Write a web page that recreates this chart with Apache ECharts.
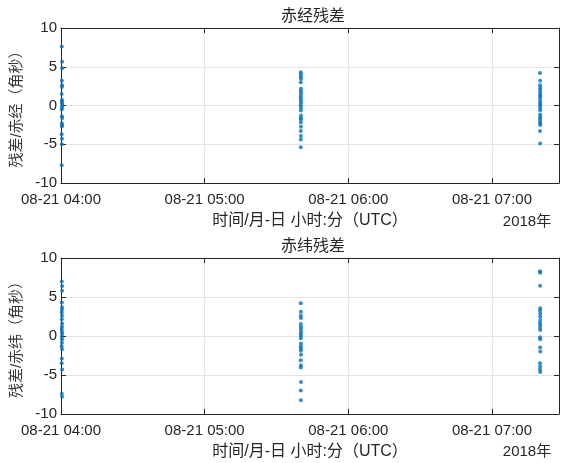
<!DOCTYPE html>
<html>
<head>
<meta charset="utf-8">
<script src="https://cdn.jsdelivr.net/npm/echarts@6/dist/echarts.min.js"></script>
<style>html,body{margin:0;padding:0;background:#fff;}#c{width:563px;height:463px;}</style>
</head>
<body>
<div id="c"></div>
<script>
// ---- data (UTC, 2018-08-21) ----
var raTimes = [
  '04:00:20','04:00:28','04:00:30','04:00:22','04:00:26','04:00:24','04:00:18','04:00:27','04:00:21','04:00:29','04:00:25',
  '04:00:19','04:00:23','04:00:31','04:00:20','04:00:28','04:00:24','04:00:17','04:00:26','04:00:22','04:00:18','04:00:30',
  '05:40:08','05:40:12','05:40:10','05:40:14','05:40:09','05:40:13','05:40:11','05:40:15','05:40:08','05:40:12','05:40:10','05:40:14',
  '05:40:09','05:40:13','05:40:11','05:40:15','05:40:08','05:40:12','05:40:10','05:40:14','05:40:09','05:40:13','05:40:11','05:40:10',
  '07:20:04','07:20:08','07:20:06','07:20:10','07:20:05','07:20:09','07:20:07','07:20:11','07:20:04','07:20:08','07:20:06',
  '07:20:10','07:20:05','07:20:09','07:20:07','07:20:11','07:20:04','07:20:08','07:20:06','07:20:10','07:20:05','07:20:07'
];
var raValues = [
  7.6, 5.65, 4.8, 3.2, 2.6, 2.4, 1.5, 0.7, 0.5, 0.3, -0.3,
  -0.5, -1.4, -1.6, -2.3, -2.5, -2.7, -3.7, -4.3, -5.0, -7.7, 0.0,
  4.3, 4.0, 3.7, 3.44, 3.0, 2.15, 1.85, 1.55, 1.2, 0.9, 0.65, 0.35,
  0.04, -0.3, -0.65, -1.3, -1.6, -1.8, -2.2, -2.75, -3.3, -3.95, -4.4, -5.4,
  4.2, 3.2, 2.6, 2.3, 2.0, 1.7, 1.4, 1.2, 0.9, 0.55, 0.25,
  0.0, -0.3, -0.6, -1.15, -1.45, -1.7, -2.0, -2.3, -2.5, -3.3, -4.9
];
var decTimes = [
  '04:00:20','04:00:28','04:00:30','04:00:22','04:00:26','04:00:24','04:00:18','04:00:27','04:00:21','04:00:29','04:00:25','04:00:19',
  '04:00:23','04:00:31','04:00:20','04:00:28','04:00:24','04:00:17','04:00:26','04:00:22','04:00:18','04:00:30','04:00:21','04:00:27',
  '05:40:08','05:40:12','05:40:10','05:40:14','05:40:09','05:40:13','05:40:11','05:40:15','05:40:08','05:40:12','05:40:10',
  '05:40:14','05:40:09','05:40:13','05:40:11','05:40:15','05:40:08','05:40:12','05:40:10','05:40:14','05:40:09','05:40:11',
  '07:20:04','07:20:08','07:20:06','07:20:10','07:20:05','07:20:09','07:20:07','07:20:11','07:20:04','07:20:08',
  '07:20:06','07:20:10','07:20:05','07:20:09','07:20:07','07:20:11','07:20:04','07:20:08','07:20:06','07:20:10'
];
var decValues = [
  7.0, 6.4, 5.8, 4.3, 3.7, 3.35, 3.0, 2.6, 2.15, 1.6, 1.2, 0.86,
  0.56, 0.26, -0.1, -0.43, -0.86, -1.3, -1.7, -2.9, -3.5, -4.3, -7.4, -7.8,
  4.2, 3.1, 2.6, 2.3, 1.55, 1.2, 0.9, 0.56, 0.26, 0.0, -0.3,
  -0.95, -1.3, -1.6, -1.9, -2.4, -3.1, -3.75, -4.05, -5.9, -7.0, -8.25,
  8.3, 8.1, 6.45, 3.57, 3.27, 2.9, 2.5, 2.06, 1.7, 1.4,
  1.1, 0.77, -0.17, -0.43, -1.46, -2.0, -3.5, -3.9, -4.3, -4.6
];
var xStart = '04:00:00';
var xEnd = '07:28:00';
var yTicks = [-10, -5, 0, 5, 10];
var titles = ['赤经残差', '赤纬残差'];
var yNames = ['残差/赤经（角秒）', '残差/赤纬（角秒）'];
var xName = '时间/月-日 小时:分（UTC）';
var yearLabel = '2018年';

// ---- helpers ----
function ts(s) {
  var p = s.split(':');
  return Date.UTC(2018, 7, 21, +p[0], +p[1], +p[2]);
}
function pad(n) { return (n < 10 ? '0' : '') + n; }
function fmt(v) {
  var d = new Date(v);
  return pad(d.getUTCMonth() + 1) + '-' + pad(d.getUTCDate()) + ' ' + pad(d.getUTCHours()) + ':' + pad(d.getUTCMinutes());
}
function pairs(t, v) { return t.map(function (s, i) { return [ts(s), v[i]]; }); }

var FONT = '"Liberation Sans", "Noto Sans CJK SC", sans-serif';
var TXT = '#262626';
var AX = '#262626';
var GRIDC = '#e3e3e3';
var grids = [
  { left: 61, top: 28, width: 498, height: 155 },
  { left: 61, top: 258, width: 498, height: 156 }
];

var xAxes = [], yAxes = [], series = [];
[0, 1].forEach(function (g) {
  xAxes.push({
    type: 'value', gridIndex: g, position: 'bottom',
    min: ts(xStart), max: ts(xEnd), interval: 3600000,
    axisLine: { show: true, onZero: false, lineStyle: { color: AX, width: 1 } },
    axisTick: { show: true, inside: true, length: 5, lineStyle: { color: AX } },
    axisLabel: { formatter: fmt, color: TXT, fontSize: 15, fontFamily: FONT, margin: 9, showMaxLabel: false },
    splitLine: { show: true, lineStyle: { color: GRIDC, width: 1 } },
    name: xName, nameLocation: 'middle', nameGap: 30,
    nameTextStyle: { color: TXT, fontSize: 16, fontFamily: FONT }
  });
  xAxes.push({
    type: 'value', gridIndex: g, position: 'top',
    min: ts(xStart), max: ts(xEnd), interval: 3600000,
    axisLine: { show: true, onZero: false, lineStyle: { color: AX, width: 1 } },
    axisTick: { show: true, inside: true, length: 5, lineStyle: { color: AX } },
    axisLabel: { show: false }, splitLine: { show: false }
  });
  yAxes.push({
    type: 'value', gridIndex: g, position: 'left',
    min: yTicks[0], max: yTicks[yTicks.length - 1], interval: 5,
    axisLine: { show: true, onZero: false, lineStyle: { color: AX, width: 1 } },
    axisTick: { show: true, inside: true, length: 5, lineStyle: { color: AX } },
    axisLabel: { color: TXT, fontSize: 15, fontFamily: FONT, margin: 4 },
    splitLine: { show: true, lineStyle: { color: GRIDC, width: 1 } },
    name: yNames[g], nameLocation: 'middle', nameGap: 33, nameRotate: 90,
    nameTextStyle: { color: '#3a3a3a', fontSize: 15, fontFamily: FONT }
  });
  yAxes.push({
    type: 'value', gridIndex: g, position: 'right',
    min: yTicks[0], max: yTicks[yTicks.length - 1], interval: 5,
    axisLine: { show: true, onZero: false, lineStyle: { color: AX, width: 1 } },
    axisTick: { show: true, inside: true, length: 5, lineStyle: { color: AX } },
    axisLabel: { show: false }, splitLine: { show: false }
  });
  series.push({
    type: 'scatter', xAxisIndex: g * 2, yAxisIndex: g * 2,
    data: g === 0 ? pairs(raTimes, raValues) : pairs(decTimes, decValues),
    symbol: 'circle', symbolSize: 4,
    itemStyle: { color: '#0072BD' }, silent: true, animation: false
  });
});

var chart = echarts.init(document.getElementById('c'), null, { renderer: 'canvas' });
chart.setOption({
  backgroundColor: '#ffffff',
  animation: false,
  grid: grids,
  xAxis: xAxes,
  yAxis: yAxes,
  series: series,
  graphic: [
    { type: 'text', x: 313, y: 17, style: { text: titles[0], fill: TXT, font: '16px ' + FONT, textAlign: 'center', textVerticalAlign: 'middle' } },
    { type: 'text', x: 313, y: 247, style: { text: titles[1], fill: TXT, font: '16px ' + FONT, textAlign: 'center', textVerticalAlign: 'middle' } },
    { type: 'text', x: 527, y: 222, style: { text: yearLabel, fill: TXT, font: '15px ' + FONT, textAlign: 'center', textVerticalAlign: 'middle' } },
    { type: 'text', x: 527, y: 452, style: { text: yearLabel, fill: TXT, font: '15px ' + FONT, textAlign: 'center', textVerticalAlign: 'middle' } }
  ]
});
</script>
</body>
</html>
